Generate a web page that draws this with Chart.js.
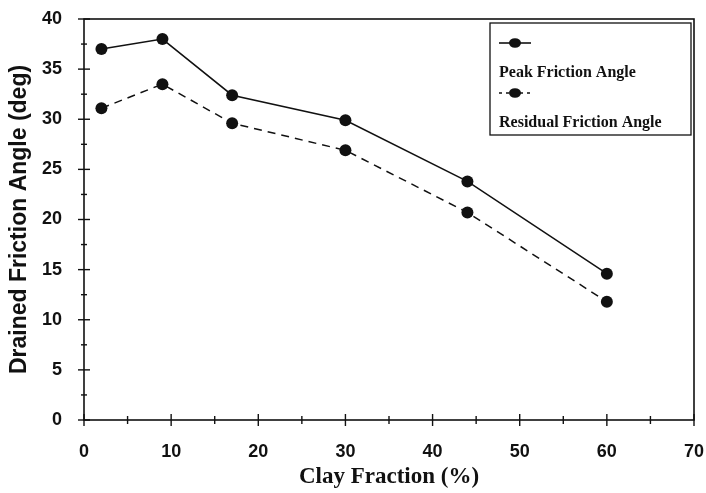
<!DOCTYPE html>
<html>
<head>
<meta charset="utf-8">
<script src="https://cdn.jsdelivr.net/npm/chart.js@4/dist/chart.umd.min.js"></script>
<style>
  html, body { margin: 0; padding: 0; background: #fff; }
  #wrap { width: 706px; height: 493px; position: relative; }
</style>
</head>
<body>
<div id="wrap"><canvas id="c" width="706" height="493"></canvas></div>
<script>
// Clay fraction (%) at which each sample was tested
const clayFraction = [2, 9, 17, 30, 44, 60];
// Drained friction angles (deg)
const peakAngle = [37.0, 38.0, 32.4, 29.9, 23.8, 14.6];
const residualAngle = [31.1, 33.5, 29.6, 26.9, 20.7, 11.8];
const seriesLabels = ['Peak Friction Angle', 'Residual Friction Angle'];
const xTickValues = [0, 10, 20, 30, 40, 50, 60, 70];
const yTickValues = [0, 5, 10, 15, 20, 25, 30, 35, 40];

const toPoints = (xs, ys) => xs.map((x, i) => ({ x: x, y: ys[i] }));

const INK = '#111';
const tickFont = { family: "'Liberation Sans', Arial, sans-serif", size: 18, weight: 'bold' };
const xTitleFont = { family: "'Liberation Serif', 'Times New Roman', serif", size: 23, weight: 'bold' };
const yTitleFont = { family: "'Liberation Sans', Arial, sans-serif", size: 23, weight: 'bold' };

// Tick marks that cross the axis lines, plus the box border and legend
const framePlugin = {
  id: 'frame',
  afterDraw(chart) {
    const { ctx, chartArea: a, scales: { x, y } } = chart;
    ctx.save();
    ctx.strokeStyle = INK;
    ctx.lineWidth = 1.6;
    // frame
    ctx.strokeRect(a.left, a.top, a.right - a.left, a.bottom - a.top);
    ctx.lineWidth = 1.4;
    // y ticks: major every 5, minor every 2.5
    for (let v = 0; v <= 40; v += 2.5) {
      const py = y.getPixelForValue(v);
      const major = v % 5 === 0;
      const len = major ? 6 : 3;
      ctx.beginPath();
      ctx.moveTo(a.left - len, py);
      ctx.lineTo(a.left + len, py);
      ctx.stroke();
    }
    // x ticks: major every 10, minor every 5
    for (let v = 0; v <= 70; v += 5) {
      const px = x.getPixelForValue(v);
      const major = v % 10 === 0;
      const len = major ? 6 : 4;
      ctx.beginPath();
      ctx.moveTo(px, a.bottom - len);
      ctx.lineTo(px, a.bottom + len);
      ctx.stroke();
    }
    // legend box
    const lx = 490, ly = 23, lw = 201, lh = 112;
    ctx.fillStyle = '#fff';
    ctx.fillRect(lx, ly, lw, lh);
    ctx.lineWidth = 1.3;
    ctx.strokeRect(lx, ly, lw, lh);
    const rows = [
      { dash: [], sy: 43, ty: 77 },
      { dash: [3, 4], sy: 93, ty: 127 }
    ];
    chart.data.datasets.forEach((ds, i) => {
      const r = rows[i];
      ctx.setLineDash(r.dash);
      ctx.lineWidth = 1.6;
      ctx.beginPath();
      ctx.moveTo(lx + 9, r.sy);
      ctx.lineTo(lx + 41, r.sy);
      ctx.stroke();
      ctx.setLineDash([]);
      ctx.fillStyle = INK;
      ctx.beginPath();
      ctx.ellipse(lx + 25, r.sy, 6, 4.8, 0, 0, Math.PI * 2);
      ctx.fill();
      ctx.font = "bold 16px 'Liberation Serif', 'Times New Roman', serif";
      ctx.textBaseline = 'alphabetic';
      ctx.textAlign = 'left';
      ctx.fillText(ds.label, lx + 9, r.ty);
    });
    ctx.restore();
  }
};

new Chart(document.getElementById('c'), {
  type: 'line',
  data: {
    datasets: [
      {
        label: seriesLabels[0],
        data: toPoints(clayFraction, peakAngle),
        borderColor: INK,
        backgroundColor: INK,
        borderWidth: 1.5,
        pointRadius: 6,
        pointBackgroundColor: INK,
        pointBorderWidth: 0,
        tension: 0
      },
      {
        label: seriesLabels[1],
        data: toPoints(clayFraction, residualAngle),
        borderColor: INK,
        backgroundColor: INK,
        borderWidth: 1.5,
        borderDash: [8, 6],
        pointRadius: 6,
        pointBackgroundColor: INK,
        pointBorderWidth: 0,
        tension: 0
      }
    ]
  },
  options: {
    responsive: false,
    animation: false,
    layout: { padding: { top: 19, right: 12, left: 0, bottom: 0 } },
    plugins: {
      legend: { display: false },
      tooltip: { enabled: false }
    },
    scales: {
      x: {
        type: 'linear',
        min: 0, max: 70,
        afterBuildTicks: (s) => { s.ticks = xTickValues.map(v => ({ value: v })); },
        grid: { display: false },
        border: { display: false },
        ticks: { color: INK, font: tickFont, padding: 13, maxRotation: 0 },
        title: { display: true, text: 'Clay Fraction (%)', color: INK, font: xTitleFont, padding: { top: 0, bottom: 2 } },
        afterFit: (s) => { s.height = 73; s.paddingLeft = 0; s.paddingRight = 0; }
      },
      y: {
        type: 'linear',
        min: 0, max: 40,
        afterBuildTicks: (s) => { s.ticks = yTickValues.map(v => ({ value: v })); },
        grid: { display: false },
        border: { display: false },
        ticks: { color: INK, font: tickFont, padding: 14 },
        title: { display: true, text: 'Drained Friction Angle (deg)', color: INK, font: yTitleFont, padding: { top: 6, bottom: 0 } },
        afterFit: (s) => { s.width = 84; s.paddingTop = 0; s.paddingBottom = 0; }
      }
    }
  },
  plugins: [framePlugin]
});
</script>
</body>
</html>
